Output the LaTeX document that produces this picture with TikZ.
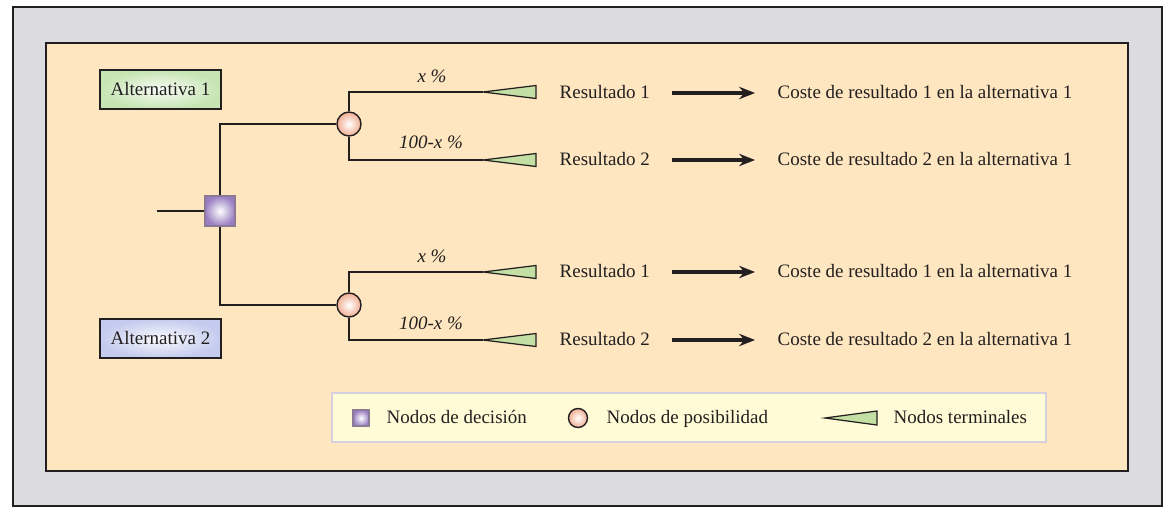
\documentclass[tikz,border=0pt]{standalone}
\usepackage{fontspec}
\setmainfont{Liberation Serif}
\usetikzlibrary{arrows.meta,positioning}
\definecolor{FrameGray}{HTML}{DCDCDE}
\definecolor{PanelSand}{HTML}{FEE6C0}
\definecolor{KeyCream}{HTML}{FFFBD6}
\definecolor{KeyEdge}{HTML}{D4D0DE}
\definecolor{AltGreen}{HTML}{C6E5B2}
\definecolor{AltBlue}{HTML}{C4CBEE}
\definecolor{DecPurple}{HTML}{9A80C2}
\definecolor{DecEdge}{HTML}{8A7A96}
\definecolor{ChanceRose}{HTML}{F0AE92}
\definecolor{TermGreen}{HTML}{C3DFA4}
\definecolor{InkDark}{HTML}{231F20}

\begin{document}
\begin{tikzpicture}[x=0.02cm,y=-0.02cm,font=\fontsize{10.8}{13}\selectfont,line width=0.8pt,color=InkDark]
\tikzset{alt/.style={draw=InkDark,line width=1pt,minimum width=2.42cm,minimum height=0.78cm,inner sep=0pt},
dec/.style={draw=DecEdge,line width=0.8pt,inner color=white,outer color=DecPurple,minimum size=0.6cm,inner sep=0pt},
chance/.style={circle,draw=InkDark,inner color=white,outer color=ChanceRose,minimum size=0.48cm,inner sep=0pt},
term/.style={draw=InkDark,fill=TermGreen,line width=0.7pt,line join=miter},
lbl/.style={anchor=west,inner sep=0pt,text height=0.7em,text depth=0.05em},
prob/.style={font=\fontsize{10.8}{13}\selectfont\itshape,inner sep=0pt},
arr/.style={-{Stealth[length=9pt,width=7pt]},line width=2.2pt,shorten <=0.42cm,shorten >=0.44cm}}
\useasboundingbox (0,0) rectangle (1170,514);
% frame, panel and key
\draw[fill=FrameGray,line width=1pt] (13,7) rectangle (1162,506);
\draw[fill=PanelSand,line width=1pt] (46,43) rectangle (1128,471);
\draw[fill=KeyCream,draw=KeyEdge,line width=1pt] (332,393) rectangle (1046,442);
% tree
\node[alt,inner color=AltGreen!12,outer color=AltGreen] (alt1) at (160.5,89.5) {Alternativa 1};
\node[alt,inner color=AltBlue!10,outer color=AltBlue] (alt2) at (160.5,338.5) {Alternativa 2};
\coordinate (root) at (157,211);
\node[dec] (d) at (220,211) {};
\node[chance] (c1) at (349,124) {};
\node[chance] (c2) at (349,305) {};
\draw (root) -- (d.west);
\draw (d.north) |- (c1.west);
\draw (d.south) |- (c2.west);
\foreach \n/\y in {11/92,12/160,21/272,22/340}{
  \coordinate (t\n) at (483,\y);
  \draw[term] (t\n) -- ++(53,-6.5) -- ++(0,13) -- cycle;}
\draw (c1.north) |- (t11);
\draw (c1.south) |- (t12);
\draw (c2.north) |- (t21);
\draw (c2.south) |- (t22);
\node[prob] (p11) at (432,76) {x \%};
\node[prob] (p12) at (431,142) {100-x \%};
\node[prob] (p21) at (432,256) {x \%};
\node[prob] (p22) at (431,323) {100-x \%};
% outcomes and costs
\foreach \n/\y/\k in {11/93/1,12/160/2,21/272/1,22/340/2}{
  \node[lbl] (r\n) at (559,\y) {Resultado \k};
  \node[lbl] (k\n) at (777,\y) {Coste de resultado \k\ en la alternativa 1};
  \draw[arr] (r\n.east) -- (k\n.west);}
% key
\node[dec,minimum size=0.32cm] (kd) at (361,418) {};
\node[lbl] (kdt) at (386,418) {Nodos de decisión};
\node[chance,minimum size=0.38cm] (kc) at (578,418) {};
\node[lbl] (kct) at (606,418) {Nodos de posibilidad};
\coordinate (kt) at (825,418);
\draw[term] (kt) -- ++(52,-7) -- ++(0,14) -- cycle;
\node[lbl] (ktt) at (893,418) {Nodos terminales};
\end{tikzpicture}
\end{document}
